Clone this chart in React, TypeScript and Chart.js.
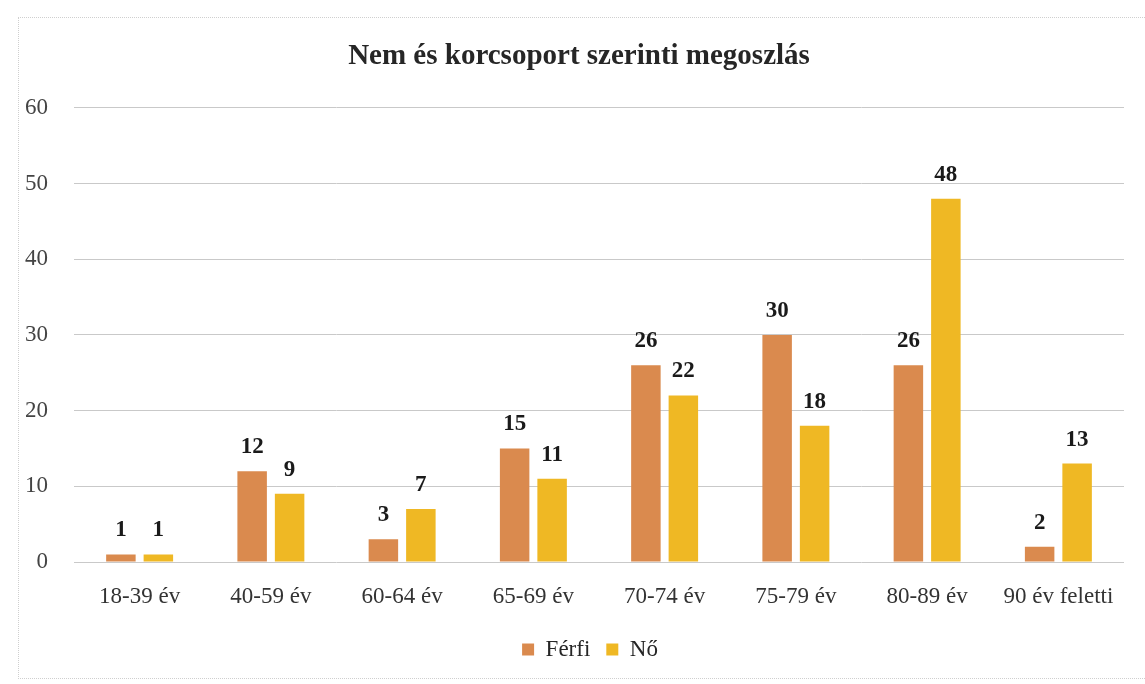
import React, { useEffect, useRef } from "react";
import { Chart, registerables } from "chart.js";

Chart.register(...registerables);

const categories = ["18-39 év", "40-59 év", "60-64 év", "65-69 év", "70-74 év", "75-79 év", "80-89 év", "90 év feletti"];
const ferfiValues = [1, 12, 3, 15, 26, 30, 26, 2];
const noValues = [1, 9, 7, 11, 22, 18, 48, 13];
const seriesNames = ["Férfi", "Nő"];
const titleText = "Nem és korcsoport szerinti megoszlás";

const FONT = "'Liberation Serif', 'Times New Roman', serif";

const dataLabelPlugin = {
  id: "dataLabels",
  afterDatasetsDraw(chart: any) {
    const ctx = chart.ctx;
    ctx.save();
    ctx.font = `bold 23px ${FONT}`;
    ctx.fillStyle = "#1a1a1a";
    ctx.textAlign = "center";
    ctx.textBaseline = "alphabetic";
    chart.data.datasets.forEach((ds: any, i: number) => {
      const meta = chart.getDatasetMeta(i);
      meta.data.forEach((bar: any, j: number) => {
        ctx.fillText(String(ds.data[j]), bar.x, bar.y - 18);
      });
    });
    ctx.restore();
  },
};

const blockShiftPlugin = {
  id: "blockShift",
  afterLayout(chart: any) {
    if (chart.legend) {
      chart.legend.left += 28;
      chart.legend.right += 28;
    }
    if (chart.titleBlock) {
      chart.titleBlock.left += 17;
      chart.titleBlock.right += 17;
    }
  },
};

export default function App() {
  const ref = useRef<HTMLCanvasElement>(null);
  useEffect(() => {
    if (!ref.current) return;
    const chart = new Chart(ref.current, {
      type: "bar",
      data: {
        labels: categories,
        datasets: [
          { label: seriesNames[0], data: ferfiValues, backgroundColor: "#DA8A4E" },
          { label: seriesNames[1], data: noValues, backgroundColor: "#EFB824" },
        ],
      },
      options: {
        animation: false,
        responsive: false,
        maintainAspectRatio: false,
        layout: { padding: { left: 0, right: 21, top: 0, bottom: 13 } },
        datasets: {
          bar: { categoryPercentage: 0.571, barPercentage: 0.787 },
        },
        plugins: {
          title: {
            display: true,
            text: titleText,
            color: "#262626",
            font: { family: FONT, size: 29, weight: "bold" },
            padding: { top: 39, bottom: 34 },
          },
          legend: {
            display: true,
            position: "bottom",
            labels: {
              color: "#262626",
              font: { family: FONT, size: 23 },
              boxWidth: 12,
              boxHeight: 12,
              padding: 16,
            },
          },
          tooltip: { enabled: false },
        },
        scales: {
          x: {
            grid: { display: false, drawTicks: false },
            border: { display: false },
            ticks: { color: "#333333", font: { family: FONT, size: 23 }, padding: 21, maxRotation: 0, autoSkip: false },
            afterFit: (scale: any) => {
              scale.height = 60;
            },
          },
          y: {
            min: 0,
            max: 60,
            ticks: { stepSize: 10, color: "#444444", font: { family: FONT, size: 23 }, padding: 26 },
            grid: { color: "#c9c9c9", lineWidth: 1, drawTicks: false },
            border: { display: false },
            afterFit: (scale: any) => {
              scale.width = 74;
            },
          },
        },
      },
      plugins: [dataLabelPlugin, blockShiftPlugin],
    });
    return () => chart.destroy();
  }, []);

  return (
    <div style={{ position: "absolute", left: 0, top: 0, width: 1145, height: 684, background: "#fff", overflow: "hidden" }}>
      <div
        style={{
          position: "absolute",
          left: 18,
          top: 17,
          width: 1140,
          height: 660,
          borderTop: "1px dotted #cfcfcf",
          borderLeft: "1px dotted #cfcfcf",
          borderBottom: "1px dotted #cfcfcf",
          pointerEvents: "none",
        }}
      />
      <canvas ref={ref} width={1145} height={684} style={{ position: "absolute", left: 0, top: 0 }} />
    </div>
  );
}
